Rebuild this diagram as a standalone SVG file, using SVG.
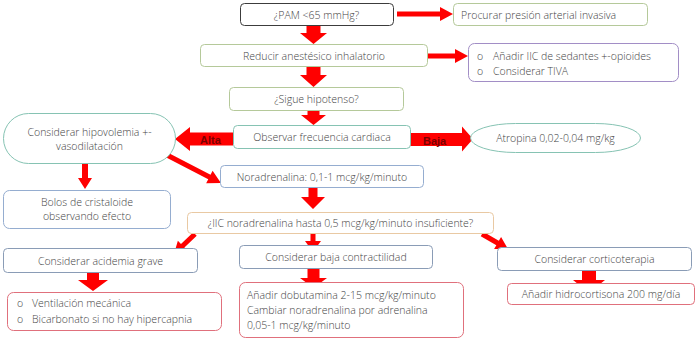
<svg xmlns="http://www.w3.org/2000/svg" width="700" height="339" viewBox="0 0 700 339">
<style>
text{font-family:"Open Sans","Liberation Sans",sans-serif;font-size:10.5px;fill:#444;font-weight:300}
.c{text-anchor:middle}
rect,ellipse{fill:#fff;stroke-width:1}
.dk{stroke:#3c3c3c}
.gr{stroke:#b5c99a}
.pu{stroke:#a28ec6}
.tl{stroke:#86c3b3}
.bl{stroke:#95add0}
.bg{stroke:#8a9cb6}
.tn{stroke:#e9c9a3}
.rd{stroke:#e0707c}
.ar{fill:#ff0000;stroke:none}
.lb{font-family:"Liberation Sans",sans-serif;font-weight:bold;font-size:11px;fill:#7a0000}
</style>
<rect width="700" height="339" fill="#fff"/>
<g id="connectors">
<path class="ar" d="M306.5,25 H320.5 V33 H327 L313.5,44 L300,33 H306.5 Z"/>
<path class="ar" d="M306.5,66 H320.5 V75 H327 L313.5,87 L300,75 H306.5 Z"/>
<path class="ar" d="M307.5,110 H319.5 V115 H326 L313.5,125 L301,115 H307.5 Z"/>
<path class="ar" d="M397,11.5 H440 V7 L453,14 L440,21 V16.5 H397 Z"/>
<path class="ar" d="M428,53.5 H455 V49 L468,56 L455,63 V58.5 H428 Z"/>
<path class="ar" d="M233,132.5 H190 V127 L175,139 L190,151 V145.5 H233 Z"/>
<path class="ar" d="M410,133 H462 V126.5 L473,139 L462,151.5 V146 H410 Z"/>
<text class="lb" x="200" y="143.5">Alta</text>
<text class="lb" x="423" y="144.5">Baja</text>
<path class="ar" d="M0,-2.5 H50 V-7 L63,0 L50,7 V2.5 H0 Z" transform="translate(165,154) rotate(27.4)"/>
<path class="ar" d="M82,163 H88 V178 H92 L85,189 L78,178 H82 Z"/>
<path class="ar" d="M308.5,187 H317.5 V197 H325 L313,209 L301,197 H308.5 Z"/>
<path class="ar" d="M0,-2.5 H17 V-7 L29,0 L17,7 V2.5 H0 Z" transform="translate(195,234) rotate(136.4)"/>
<path class="ar" d="M310.5,233 H315.5 V241 H321 L313,252 L305,241 H310.5 Z"/>
<path class="ar" d="M0,-2.5 H18 V-7 L30,0 L18,7 V2.5 H0 Z" transform="translate(482,234) rotate(30)"/>
<path class="ar" d="M87,272 H99 V280 H108 L93,291 L78,280 H87 Z"/>
<path class="ar" d="M307.5,268 H319.5 V278 H327 L313.5,288 L300,278 H307.5 Z"/>
<path class="ar" d="M582,270 H596 V280 H605 L589,293 L573,280 H582 Z"/>
</g>
<g id="pam"><rect class="dk" x="240.5" y="3.5" width="153" height="22" rx="4"/><text class="c" x="316.5" y="18.5">¿PAM &lt;65 mmHg?</text></g>
<g id="procurar"><rect class="gr" x="453.5" y="3.5" width="194" height="22" rx="4"/><text x="461" y="18.5">Procurar presión arterial invasiva</text></g>
<g id="reducir"><rect class="gr" x="200.5" y="44.5" width="227" height="22" rx="4"/><text class="c" x="314" y="59.5">Reducir anestésico inhalatorio</text></g>
<g id="anadir"><rect class="pu" x="468.5" y="43.5" width="210" height="38" rx="6"/><text x="477" y="59.5">o</text><text x="493" y="59.5">Añadir IIC de sedantes +-opioides</text><text x="477" y="74.5">o</text><text x="493" y="74.5">Considerar TIVA</text></g>
<g id="sigue"><rect class="gr" x="229.5" y="87.5" width="174" height="23" rx="4"/><text class="c" x="316.5" y="103">¿Sigue hipotenso?</text></g>
<g id="observar"><rect class="tl" x="233.5" y="125.5" width="177" height="23" rx="4"/><text class="c" x="322" y="141">Observar frecuencia cardiaca</text></g>
<g id="atropina"><rect class="tl" x="470.5" y="123.5" width="170" height="29" rx="45" ry="14.5"/><text class="c" x="555.5" y="142">Atropina 0,02-0,04 mg/kg</text></g>
<g id="hipovolemia"><rect class="tl" x="3.5" y="113.5" width="172" height="50" rx="25"/><text class="c" x="89.5" y="136">Considerar hipovolemia +-</text><text class="c" x="89.5" y="150">vasodilatación</text></g>
<g id="bolos"><rect class="bl" x="3.5" y="190.5" width="167" height="38" rx="6"/><text class="c" x="87" y="206">Bolos de cristaloide</text><text class="c" x="87" y="220">observando efecto</text></g>
<g id="noradrenalina"><rect class="bl" x="220.5" y="165.5" width="203" height="22" rx="4"/><text class="c" x="322" y="180.5">Noradrenalina: 0,1-1 mcg/kg/minuto</text></g>
<g id="iic"><rect class="tn" x="187.5" y="212.5" width="306" height="21" rx="4"/><text class="c" x="340.5" y="227">¿IIC noradrenalina hasta 0,5 mcg/kg/minuto insuficiente?</text></g>
<g id="acidemia"><rect class="bg" x="3.5" y="248.5" width="194" height="24" rx="4"/><text class="c" x="100.5" y="264.5">Considerar acidemia grave</text></g>
<g id="contractilidad"><rect class="bg" x="239.5" y="245.5" width="193" height="23" rx="4"/><text class="c" x="336" y="261">Considerar baja contractilidad</text></g>
<g id="corticoterapia"><rect class="bg" x="497.5" y="247.5" width="194" height="23" rx="4"/><text class="c" x="594.5" y="263">Considerar corticoterapia</text></g>
<g id="ventilacion"><rect class="rd" x="7.5" y="292.5" width="214" height="38" rx="6"/><text x="17" y="307">o</text><text x="32" y="307">Ventilación mecánica</text><text x="17" y="323">o</text><text x="32" y="323">Bicarbonato si no hay hipercapnia</text></g>
<g id="dobutamina"><rect class="rd" x="239.5" y="282.5" width="224" height="55" rx="6"/><text x="247" y="298.5">Añadir dobutamina 2-15 mcg/kg/minuto</text><text x="247" y="313.5">Cambiar noradrenalina por adrenalina</text><text x="247" y="328.5">0,05-1 mcg/kg/minuto</text></g>
<g id="hidrocortisona"><rect class="rd" x="507.5" y="283.5" width="187" height="21" rx="4"/><text class="c" x="601" y="298">Añadir hidrocortisona 200 mg/día</text></g>
</svg>
